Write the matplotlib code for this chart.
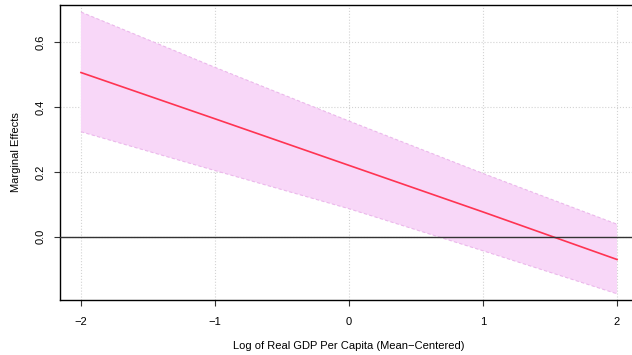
import matplotlib
matplotlib.use('Agg')
import matplotlib.pyplot as plt
import numpy as np

# marginal effect of the moderator, with its confidence band
gdp = [-2, -1, 0, 1, 2]
effect = [0.507, 0.364, 0.220, 0.076, -0.071]
upper = [0.694, 0.523, 0.357, 0.195, 0.038]
lower = [0.324, 0.204, 0.086, -0.044, -0.177]
xticks = [-2, -1, 0, 1, 2]
yticks = [0.0, 0.2, 0.4, 0.6]

plt.rcParams['font.family'] = ['Liberation Sans', 'DejaVu Sans']

fig = plt.figure(figsize=(6.32, 3.55), dpi=100)
ax = fig.add_axes([59.5 / 632, 1 - 300 / 355, 579 / 632, 295 / 355])

ax.fill_between(gdp, lower, upper, facecolor='#F8D7F8', edgecolor='none', zorder=1)
ax.plot(gdp, upper, color='#EBB8EB', lw=0.8, ls=(0, (3, 2)), zorder=2)
ax.plot(gdp, lower, color='#EBB8EB', lw=0.8, ls=(0, (3, 2)), zorder=2)
ax.plot(gdp, effect, color='#FF3352', lw=1.2, zorder=3)
ax.axhline(0, color='#333333', lw=1.0, zorder=4)

# padding around the data
xr = max(gdp) - min(gdp)
ax.set_xlim(min(gdp) - 0.04 * xr, max(gdp) + 0.04 * xr)
yr = max(upper) - min(lower)
ax.set_ylim(min(lower) - 0.022 * yr, max(upper) + 0.025 * yr)

ax.set_xticks(xticks)
ax.set_yticks(yticks)
ax.set_yticklabels(['%.1f' % v for v in yticks], rotation=90, va='center')
ax.grid(True, color='#D3D3D3', ls=':', lw=0.8, zorder=0)
ax.set_axisbelow(True)

ax.tick_params(axis='both', direction='out', length=4.3, width=0.8, labelsize=8, color='#333333')
ax.tick_params(axis='x', pad=8)
ax.tick_params(axis='y', pad=6)
for s in ax.spines.values():
    s.set_linewidth(1.0)

ax.set_xlabel('Log of Real GDP Per Capita (Mean\u2212Centered)', fontsize=8, labelpad=10)
ax.set_ylabel('Marginal Effects', fontsize=8, labelpad=10)

fig.savefig('out.png', dpi=100)
